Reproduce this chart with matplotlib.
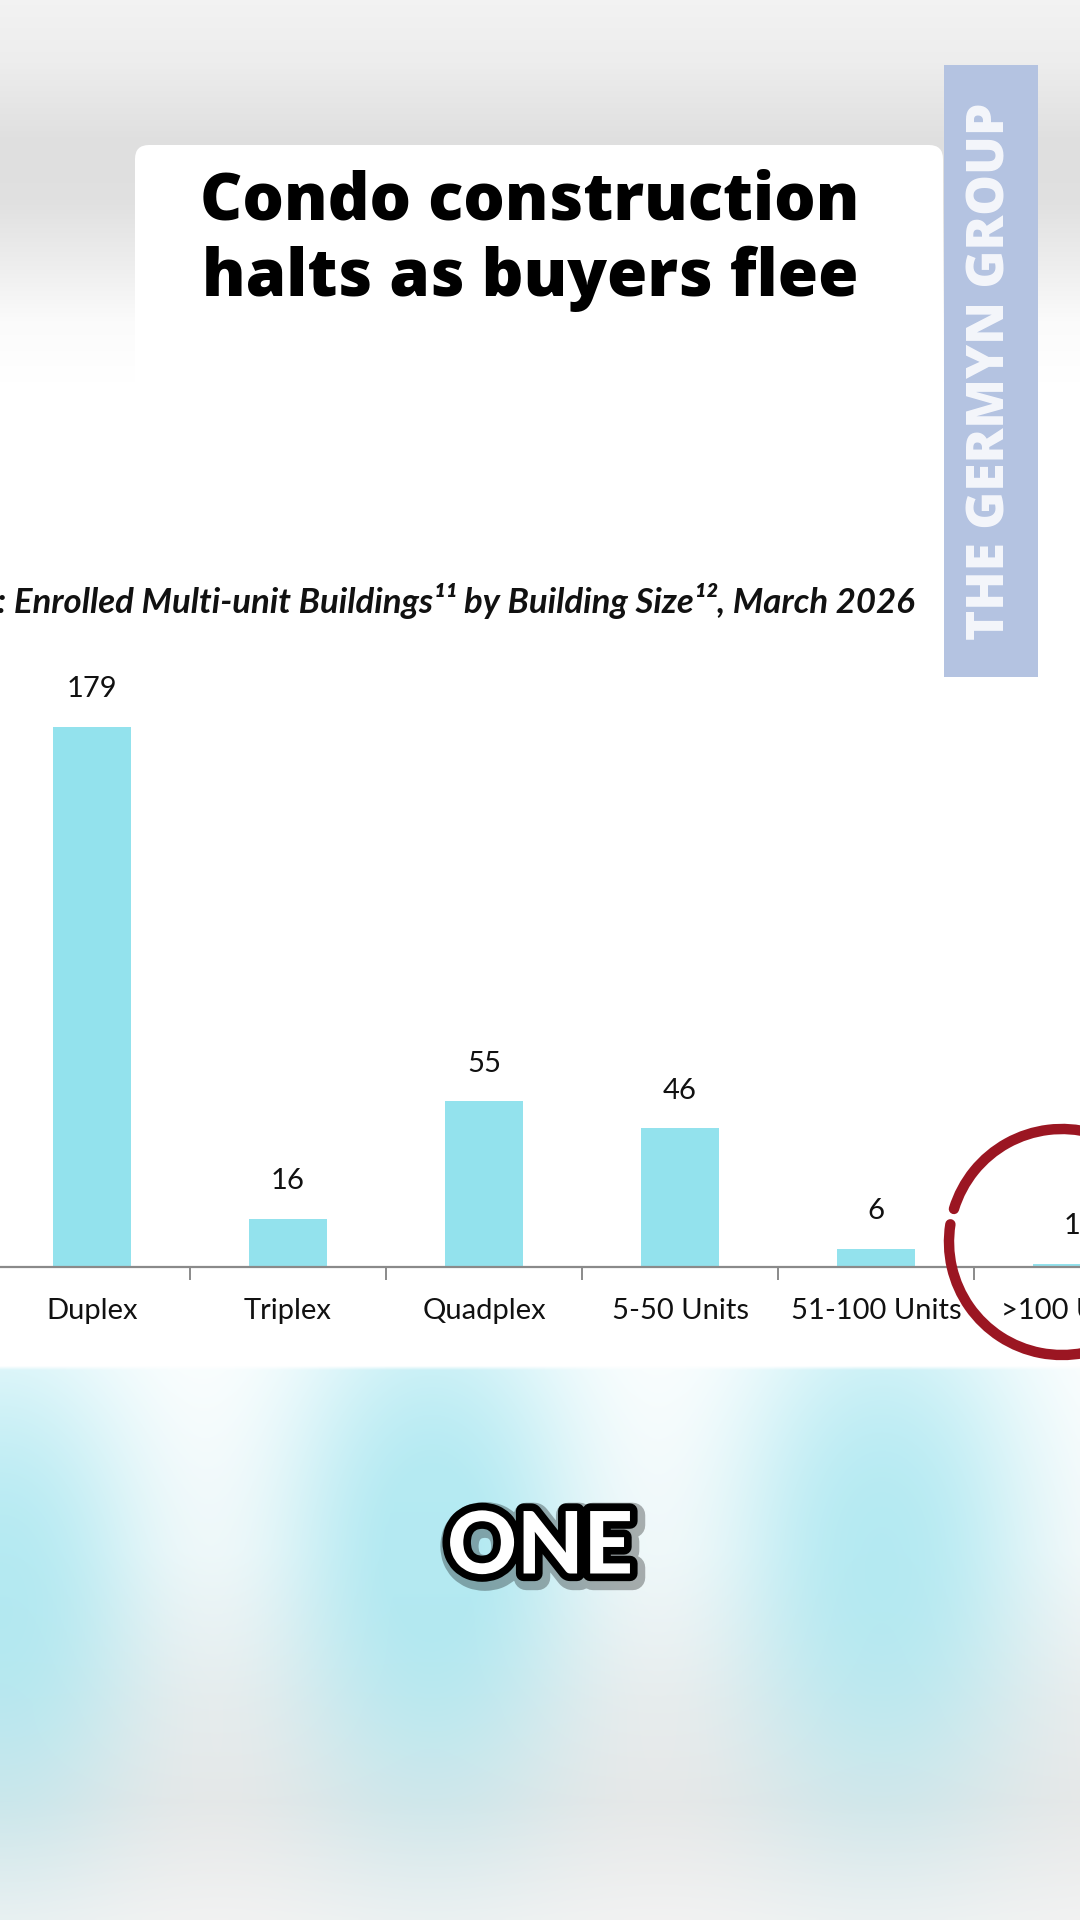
import numpy as np
import matplotlib
matplotlib.use('Agg')
import matplotlib.pyplot as plt
from matplotlib.patches import FancyBboxPatch, Rectangle, Arc
import matplotlib.patheffects as pe

# ---------------- data ----------------
categories = ['Duplex', 'Triplex', 'Quadplex', '5-50 Units', '51-100 Units', '>100 Units']
values = [179, 16, 55, 46, 6, 1]

title_lines = ['Condo construction', 'halts as buyers flee']
subtitle = 'Figure 10: Enrolled Multi-unit Buildings\u00b9\u00b9 by Building Size\u00b9\u00b2, March 2026'
watermark = 'THE GERMYN GROUP'
caption = 'ONE'

W, H = 1080, 1920
fig = plt.figure(figsize=(10.8, 19.2), dpi=100)

# ---------------- blurred video-style background ----------------
bg = fig.add_axes([0, 0, 1, 1])
bg.set_xlim(0, W)
bg.set_ylim(H, 0)
bg.axis('off')

yy, xx = np.mgrid[0:H:4, 0:W:4].astype(float)
gray = np.ones_like(yy)
top = yy < 1365
gray[top] = np.interp(yy[top], [0, 60, 140, 200, 260, 320, 380],
                      [0.95, 0.93, 0.875, 0.88, 0.93, 0.985, 1.0])
bot = ~top
gray[bot] = np.interp(yy[bot], [1365, 1550, 1700, 1800, 1920],
                      [1.0, 0.985, 0.93, 0.91, 0.95])
alpha = np.zeros_like(yy)
for cx, cy, sx, sy, a in [(0, 1590, 110, 190, 0.8),
                          (430, 1550, 115, 200, 0.85),
                          (880, 1550, 115, 200, 0.8)]:
    d2 = ((xx - cx) / sx) ** 2 + ((yy - cy) / sy) ** 2
    alpha += a * np.exp(-0.5 * d2 ** 1.2)
alpha = np.clip(alpha, 0, 0.8) * bot
cyan = np.array([0.64, 0.90, 0.94])
img = gray[..., None] * (1 - alpha[..., None]) + cyan[None, None, :] * alpha[..., None]
bg.imshow(img, extent=(0, W, H, 0), interpolation='bilinear', aspect='auto', zorder=0)

# title card
bg.add_patch(FancyBboxPatch((135, 145), 808, 320, boxstyle='round,pad=0,rounding_size=14',
                            fc='white', ec='none', zorder=2))
title_font = dict(family=['Open Sans', 'DejaVu Sans'], weight='heavy', fontsize=47, color='black')
bg.text(530, 203, title_lines[0], ha='center', va='center', zorder=3, **title_font)
bg.text(530, 279, title_lines[1], ha='center', va='center', zorder=3, **title_font)

# watermark band
bg.add_patch(Rectangle((944, 65), 94, 612, fc='#b4c3e1', ec='none', zorder=2))
bg.text(991, 371, watermark, rotation=90, ha='center', va='center', color='#f4f6fb',
        family=['Open Sans', 'DejaVu Sans'], weight='heavy', fontsize=37, zorder=3)

# chart subtitle (cut at the left edge, as in the source frame)
bg.text(915, 601, subtitle, ha='right', va='center', color='#111111',
        family=['Lato', 'DejaVu Sans'],
        weight='bold', style='italic', fontsize=25, zorder=3)

# ---------------- bar chart ----------------
px_per_unit = 3.017
ymax = 200
ax_left, slot = -6, 196
ax_bottom_px = 1267
ax = fig.add_axes([ax_left / W, (H - ax_bottom_px) / H,
                   slot * len(categories) / W, ymax * px_per_unit / H])
ax.patch.set_visible(False)
x = np.arange(len(categories))
ax.bar(x, values, width=0.4, color='#93e2ed', zorder=2)
ax.set_xlim(-0.5, len(categories) - 0.5)
ax.set_ylim(0, ymax)
for xi, v in zip(x, values):
    ax.annotate(f'{v}', (xi, v), xytext=(0, 27), textcoords='offset points',
                ha='center', va='center', fontsize=21, family=['Lato', 'DejaVu Sans'],
                color='#111111')
for s in ['top', 'right', 'left']:
    ax.spines[s].set_visible(False)
ax.spines['bottom'].set_color('#8a8a8a')
ax.spines['bottom'].set_linewidth(1.6)
ax.set_yticks([])
ax.set_xticks(x)
ax.set_xticklabels(categories, fontsize=21, family=['Lato', 'DejaVu Sans'], color='#111111')
ax.tick_params(axis='x', which='major', length=0, pad=22)
ax.set_xticks(x[:-1] + 0.5, minor=True)
ax.tick_params(axis='x', which='minor', length=9, width=1.4, color='#8a8a8a', direction='out')

# ---------------- overlay: red circle + caption ----------------
fg = fig.add_axes([0, 0, 1, 1])
fg.patch.set_visible(False)
fg.set_xlim(0, W)
fg.set_ylim(0, H)
fg.axis('off')
fg.add_patch(Arc((1062, H - 1242), 226, 226, theta1=171, theta2=523,
                 color='#9b1622', lw=7.5, capstyle='round', zorder=5))

fg.text(540, H - 1549, caption, ha='center', va='center', color='white',
        family=['Lato', 'DejaVu Sans'], weight='black', fontsize=62, zorder=6,
        path_effects=[pe.Stroke(linewidth=18, foreground='black', alpha=0.3, offset=(2, -3)),
                      pe.Stroke(linewidth=11, foreground='black'),
                      pe.Normal()])

fig.savefig('out.png', dpi=100)
